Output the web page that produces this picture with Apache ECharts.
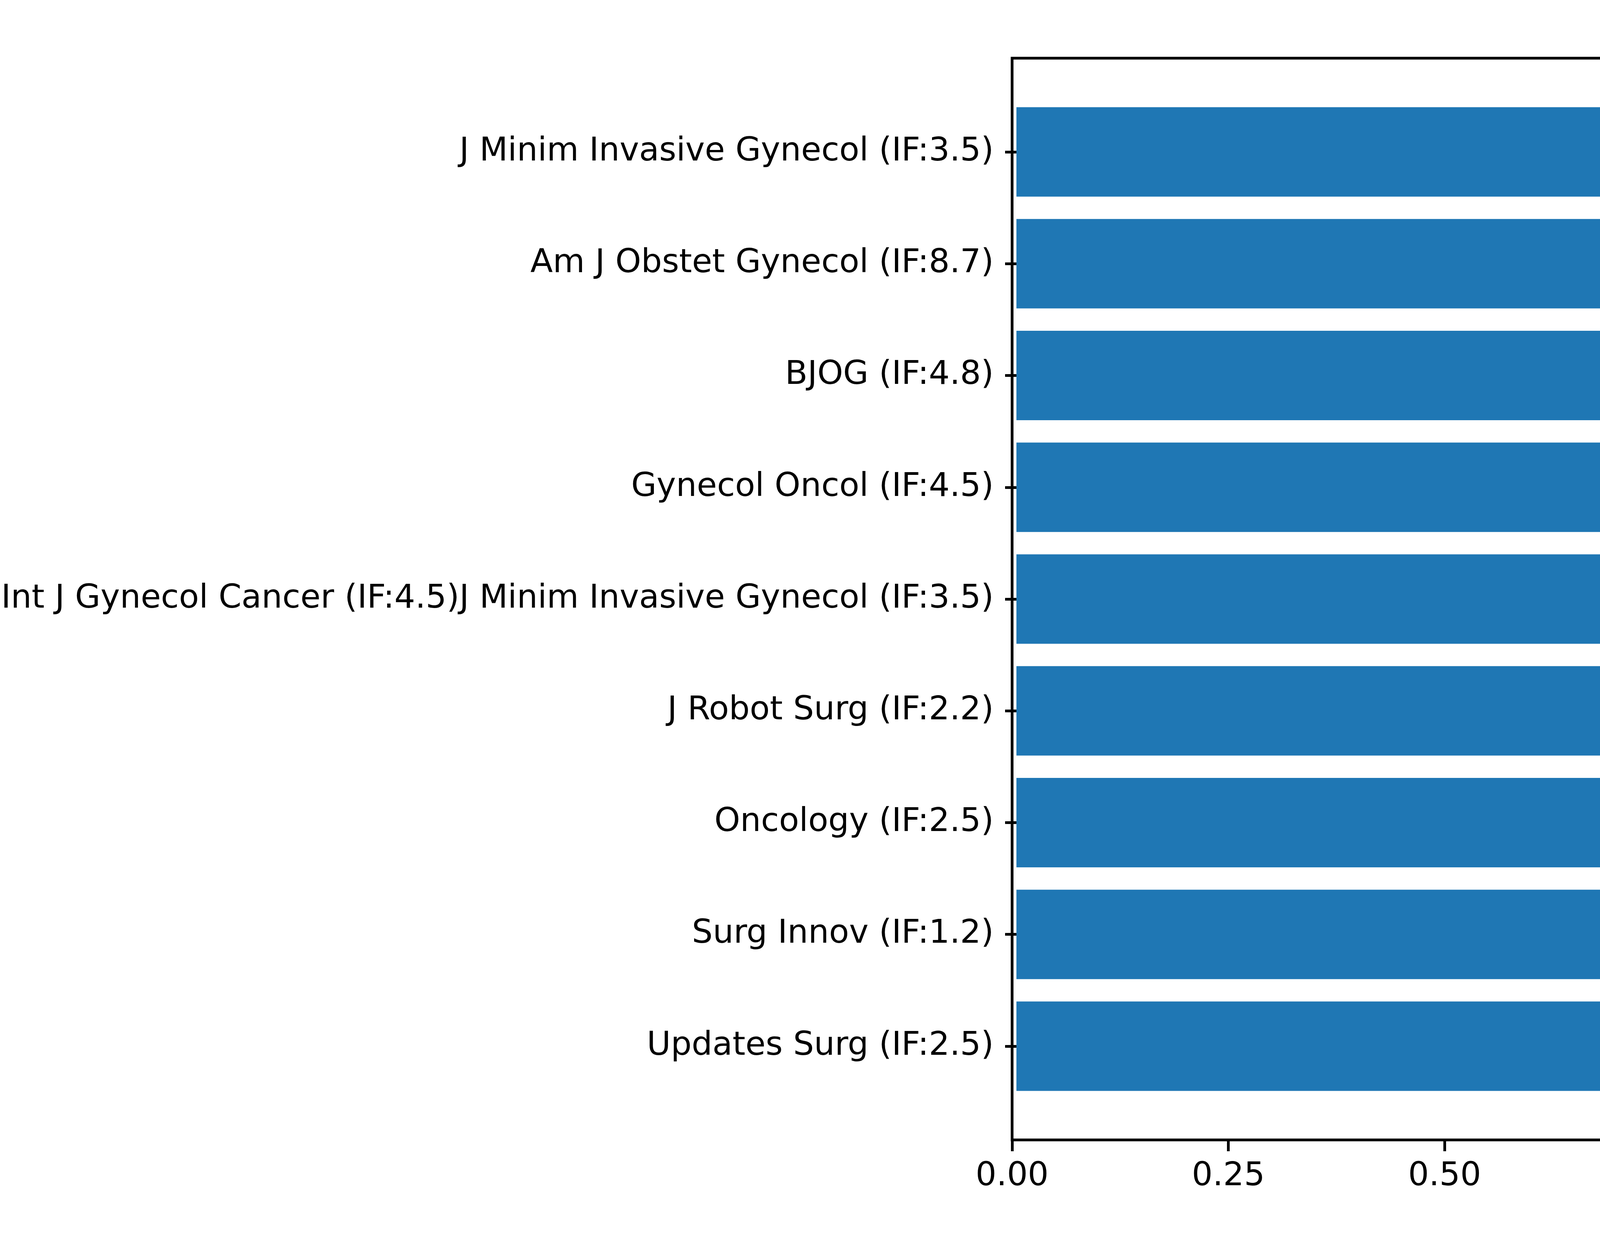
<!DOCTYPE html>
<html>
<head>
	<meta charset="utf-8">
	<title>Frequency of Journal Names</title>
	<script src="https://cdn.jsdelivr.net/npm/echarts@6/dist/echarts.min.js"></script>
	<style>
		html, body {
			margin: 0;
			padding: 0;
			background: #fff;
		}
		#main {
			width: 7266px;
			height: 3206px;
		}
	</style>
</head>
<body>
	<div id="main"></div>
	<script>
		// journals, top to bottom
		var journals = [
			'J Minim Invasive Gynecol (IF:3.5)',
			'Am J Obstet Gynecol (IF:8.7)',
			'BJOG (IF:4.8)',
			'Gynecol Oncol (IF:4.5)',
			'Int J Gynecol Cancer (IF:4.5)J Minim Invasive Gynecol (IF:3.5)',
			'J Robot Surg (IF:2.2)',
			'Oncology (IF:2.5)',
			'Surg Innov (IF:1.2)',
			'Updates Surg (IF:2.5)'
		];
		var counts = [2, 1, 1, 1, 1, 1, 1, 1, 1];
		var freqTicks = [0, 0.25, 0.5, 0.75, 1.0, 1.25, 1.5, 1.75, 2.0];

		var font = 'DejaVu Sans';
		var lineW = 7;

		// frame grid (axes box) and inner grid for the bars, the inner one leaves
		// the same empty margin matplotlib puts above and below the bars
		var frame = { left: 2591, right: 25, top: 149, bottom: 287 };
		var pad = 97;

		var chart = echarts.init(document.getElementById('main'), null, { renderer: 'canvas' });

		chart.setOption({
			animation: false,
			backgroundColor: '#ffffff',
			title: {
				text: 'Frequency of Journal Names',
				left: 4916,
				top: 21,
				padding: 0,
				textAlign: 'center',
				textStyle: {
					fontFamily: font,
					fontSize: 100,
					fontWeight: 'normal',
					color: '#000'
				}
			},
			grid: [{
				left: frame.left,
				right: frame.right,
				top: frame.top,
				bottom: frame.bottom,
				show: true,
				borderColor: '#000',
				borderWidth: lineW,
				backgroundColor: 'transparent'
			}, {
				left: frame.left,
				right: frame.right,
				top: frame.top + pad,
				bottom: frame.bottom + pad
			}],
			xAxis: [{
				gridIndex: 0,
				type: 'value',
				min: 0,
				max: 2.1,
				name: 'Frequency',
				nameLocation: 'middle',
				nameGap: 163,
				nameTextStyle: {
					fontFamily: font,
					fontSize: 100,
					color: '#000'
				},
				splitLine: { show: false },
				axisLine: { show: false },
				axisTick: {
					show: true,
					length: 29,
					customValues: freqTicks,
					lineStyle: { color: '#000', width: lineW }
				},
				axisLabel: {
					customValues: freqTicks,
					margin: 52,
					fontFamily: font,
					fontSize: 84,
					color: '#000',
					formatter: function (v) { return v.toFixed(2); }
				}
			}, {
				gridIndex: 1,
				type: 'value',
				min: 0,
				max: 2.1,
				show: false
			}],
			yAxis: [{
				gridIndex: 0,
				type: 'value',
				show: false
			}, {
				gridIndex: 1,
				type: 'category',
				inverse: true,
				data: journals,
				axisLine: { show: false },
				axisTick: {
					show: true,
					alignWithLabel: true,
					length: 29,
					lineStyle: { color: '#000', width: lineW }
				},
				axisLabel: {
					interval: 0,
					margin: 58,
					fontFamily: font,
					fontSize: 84,
					color: '#000'
				},
				splitLine: { show: false }
			}],
			series: [{
				type: 'bar',
				xAxisIndex: 1,
				yAxisIndex: 1,
				data: counts,
				barWidth: '80%',
				itemStyle: { color: '#1f77b4' }
			}]
		});
	</script>
</body>
</html>
